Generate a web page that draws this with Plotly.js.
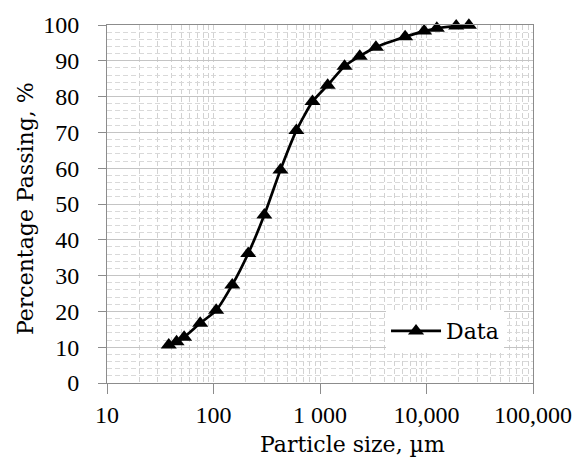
<!DOCTYPE html>
<html>
<head>
<meta charset="utf-8">
<script src="https://cdn.plot.ly/plotly-3.0.1.min.js"></script>
<style>html,body{margin:0;padding:0;background:#fff;}#chart{width:579px;height:460px;}</style>
</head>
<body>
<div id="chart"></div>
<script>
// Particle size (µm) and cumulative percentage passing (%)
var particleSize = [38, 45, 53, 75, 106, 150, 212, 300, 425, 600, 850, 1180, 1700, 2360, 3350, 6300, 9500, 12500, 19000, 25000];
var percentPassing = [10.6, 11.5, 12.8, 16.7, 20.3, 27.4, 36.2, 46.9, 59.5, 70.5, 78.6, 83.2, 88.5, 91.3, 93.8, 96.7, 98.3, 99.1, 99.7, 99.9];

var xTickVals = [10, 100, 1000, 10000, 100000];
var xTickText = ["10", "100", "1 000", "10,000", "100,000"];
var yTickVals = [0, 10, 20, 30, 40, 50, 60, 70, 80, 90, 100];

var numFont = {family: "'Liberation Serif', 'Times New Roman', Times, serif", size: 24, color: "#000"};
var textFont = {family: "'DejaVu Serif', serif", size: 22, color: "#000"};

var trace = {
  x: particleSize,
  y: percentPassing,
  name: "Data",
  type: "scatter",
  mode: "lines+markers",
  cliponaxis: false,
  line: {color: "#000", width: 2.7, shape: "spline", smoothing: 0.6},
  marker: {symbol: "triangle-up", size: 14, color: "#000"}
};

var layout = {
  width: 579, height: 460,
  margin: {l: 107, r: 46, t: 25, b: 77},
  paper_bgcolor: "#fff", plot_bgcolor: "#fff",
  font: numFont,
  showlegend: true,
  legend: {
    x: 0.655, y: 0.145, xanchor: "left", yanchor: "middle",
    bgcolor: "#fff", borderwidth: 0, font: textFont, itemwidth: 50,
    tracegroupgap: 0
  },
  xaxis: {
    type: "log", range: [1, 5],
    tickvals: xTickVals, ticktext: xTickText,
    tickfont: numFont,
    ticks: "outside", ticklen: 10, tickcolor: "#8c8c8c", tickwidth: 1,
    showline: true, linecolor: "#8c8c8c", linewidth: 1, mirror: true,
    showgrid: true, gridcolor: "#d2d2d2", gridwidth: 1, griddash: "5px,3px",
    minor: {dtick: "D1", showgrid: true, gridcolor: "#d2d2d2", gridwidth: 1, griddash: "5px,3px", ticks: ""},
    zeroline: false, fixedrange: true
  },
  yaxis: {
    range: [0, 100],
    tickvals: yTickVals,
    tickfont: numFont,
    ticks: "outside", ticklen: 8, tickcolor: "#8c8c8c", tickwidth: 1,
    ticklabelstandoff: 14,
    showline: true, linecolor: "#8c8c8c", linewidth: 1, mirror: true,
    showgrid: true, gridcolor: "#c4c4c4", gridwidth: 1,
    minor: {dtick: 2, showgrid: true, gridcolor: "#d9d9d9", gridwidth: 1, griddash: "5px,3px", ticks: ""},
    zeroline: false, fixedrange: true
  },
  annotations: [
    {text: "Particle size, µm", xref: "paper", yref: "paper",
     x: (352 - 107) / 426, y: -(444 - 383) / 358, xanchor: "center", yanchor: "middle",
     showarrow: false, font: textFont},
    {text: "Percentage Passing, %", xref: "paper", yref: "paper",
     x: -(107 - 25) / 426, y: (383 - 209) / 358, xanchor: "center", yanchor: "middle",
     textangle: -90, showarrow: false, font: textFont}
  ]
};

Plotly.newPlot("chart", [trace], layout, {displayModeBar: false, staticPlot: true});
</script>
</body>
</html>
